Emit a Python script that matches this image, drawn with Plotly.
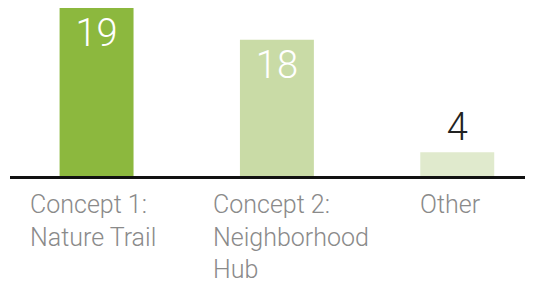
import plotly.graph_objects as go

categories = ["Concept 1:<br>Nature Trail", "Concept 2:<br>Neighborhood<br>Hub", "Other"]
bar_heights = [19, 15.4, 2.7]
value_labels = ["19", "18", "4"]
bar_colors = ["#8cb83e", "#c9dba6", "#e0eacd"]

keys = ["c1", "c2", "other"]

fig = go.Figure()
fig.add_trace(go.Bar(
    x=keys, y=bar_heights, text=value_labels,
    marker=dict(color=bar_colors, line=dict(width=0)),
    width=0.41,
    textposition=["inside", "inside", "outside"],
    insidetextanchor="end",
    insidetextfont=dict(family="Roboto", size=38, color="white", weight=300),
    outsidetextfont=dict(family="Roboto", size=38, color="#222222", weight=300),
    textangle=0,
    cliponaxis=False,
    hoverinfo="skip",
))

label_shifts = [-69, -66, -39]
for k, lab, sh in zip(keys, categories, label_shifts):
    fig.add_annotation(
        x=k, y=0, xref="x", yref="y", text=lab, showarrow=False,
        xanchor="left", yanchor="top", align="left", xshift=sh, yshift=-12,
        font=dict(family="Roboto", size=25, color="#8a8a8a", weight=300),
    )

fig.update_layout(
    width=525, height=276,
    margin=dict(l=2, r=0, t=0, b=108),
    paper_bgcolor="white", plot_bgcolor="white",
    showlegend=False,
    xaxis=dict(range=[-0.48, 2.42], showticklabels=False, showgrid=False,
               zeroline=False, showline=True, linecolor="#111111", linewidth=3,
               ticks=""),
    yaxis=dict(range=[0, 19], visible=False, showgrid=False, zeroline=False),
)

fig.write_html("out.html")
